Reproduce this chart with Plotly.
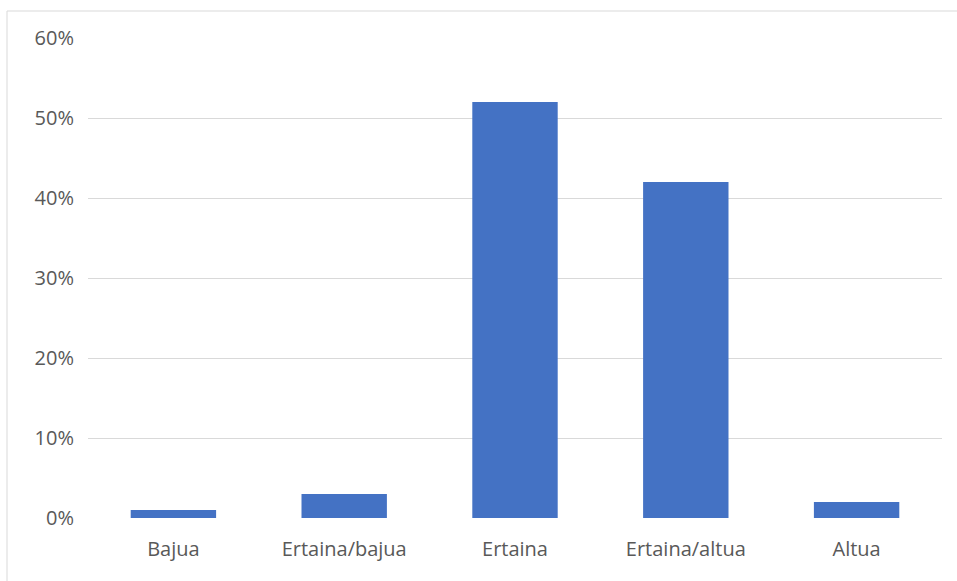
import plotly.graph_objects as go

categories = ["Bajua", "Ertaina/bajua", "Ertaina", "Ertaina/altua", "Altua"]
shares = [0.01, 0.03, 0.52, 0.42, 0.02]
y_ticks = [0, 0.1, 0.2, 0.3, 0.4, 0.5, 0.6]
y_tick_labels = ["0%", "10%", "20%", "30%", "40%", "50%", "60%"]

W, H = 957, 581
L, R, T, B = 88, 15, 38, 63
pw, ph = W - L - R, H - T - B

fig = go.Figure(
    go.Bar(
        x=categories,
        y=shares,
        marker=dict(color="#4472C4", line=dict(width=0)),
        hoverinfo="x+y",
    )
)

# light frame around the chart area
fig.add_shape(
    type="rect",
    xref="paper", yref="paper",
    x0=(7 - L) / pw, x1=(W + 5 - L) / pw,
    y0=-(H + 5 - T - ph) / ph, y1=(H - B - 11) / ph,
    line=dict(color="#d9d9d9", width=1),
    fillcolor="rgba(0,0,0,0)",
    layer="below",
)

fig.update_layout(
    width=W, height=H,
    margin=dict(l=L, r=R, t=T, b=B),
    paper_bgcolor="white",
    plot_bgcolor="white",
    bargap=0.5,
    showlegend=False,
    font=dict(family="Open Sans, DejaVu Sans, sans-serif", size=20, color="#595959"),
    xaxis=dict(
        showgrid=False,
        showline=False,
        zeroline=False,
        ticks="",
        ticklabelstandoff=17,
        tickfont=dict(size=20, color="#595959"),
    ),
    yaxis=dict(
        range=[0, 0.6],
        tickvals=y_ticks,
        ticktext=y_tick_labels,
        showgrid=True,
        gridcolor="#d9d9d9",
        gridwidth=1,
        zeroline=True,
        zerolinecolor="white",
        zerolinewidth=1,
        layer="below traces",
        showline=False,
        ticks="",
        ticklabelstandoff=13,
        tickfont=dict(size=20, color="#595959"),
    ),
)

fig.write_html("out.html")
